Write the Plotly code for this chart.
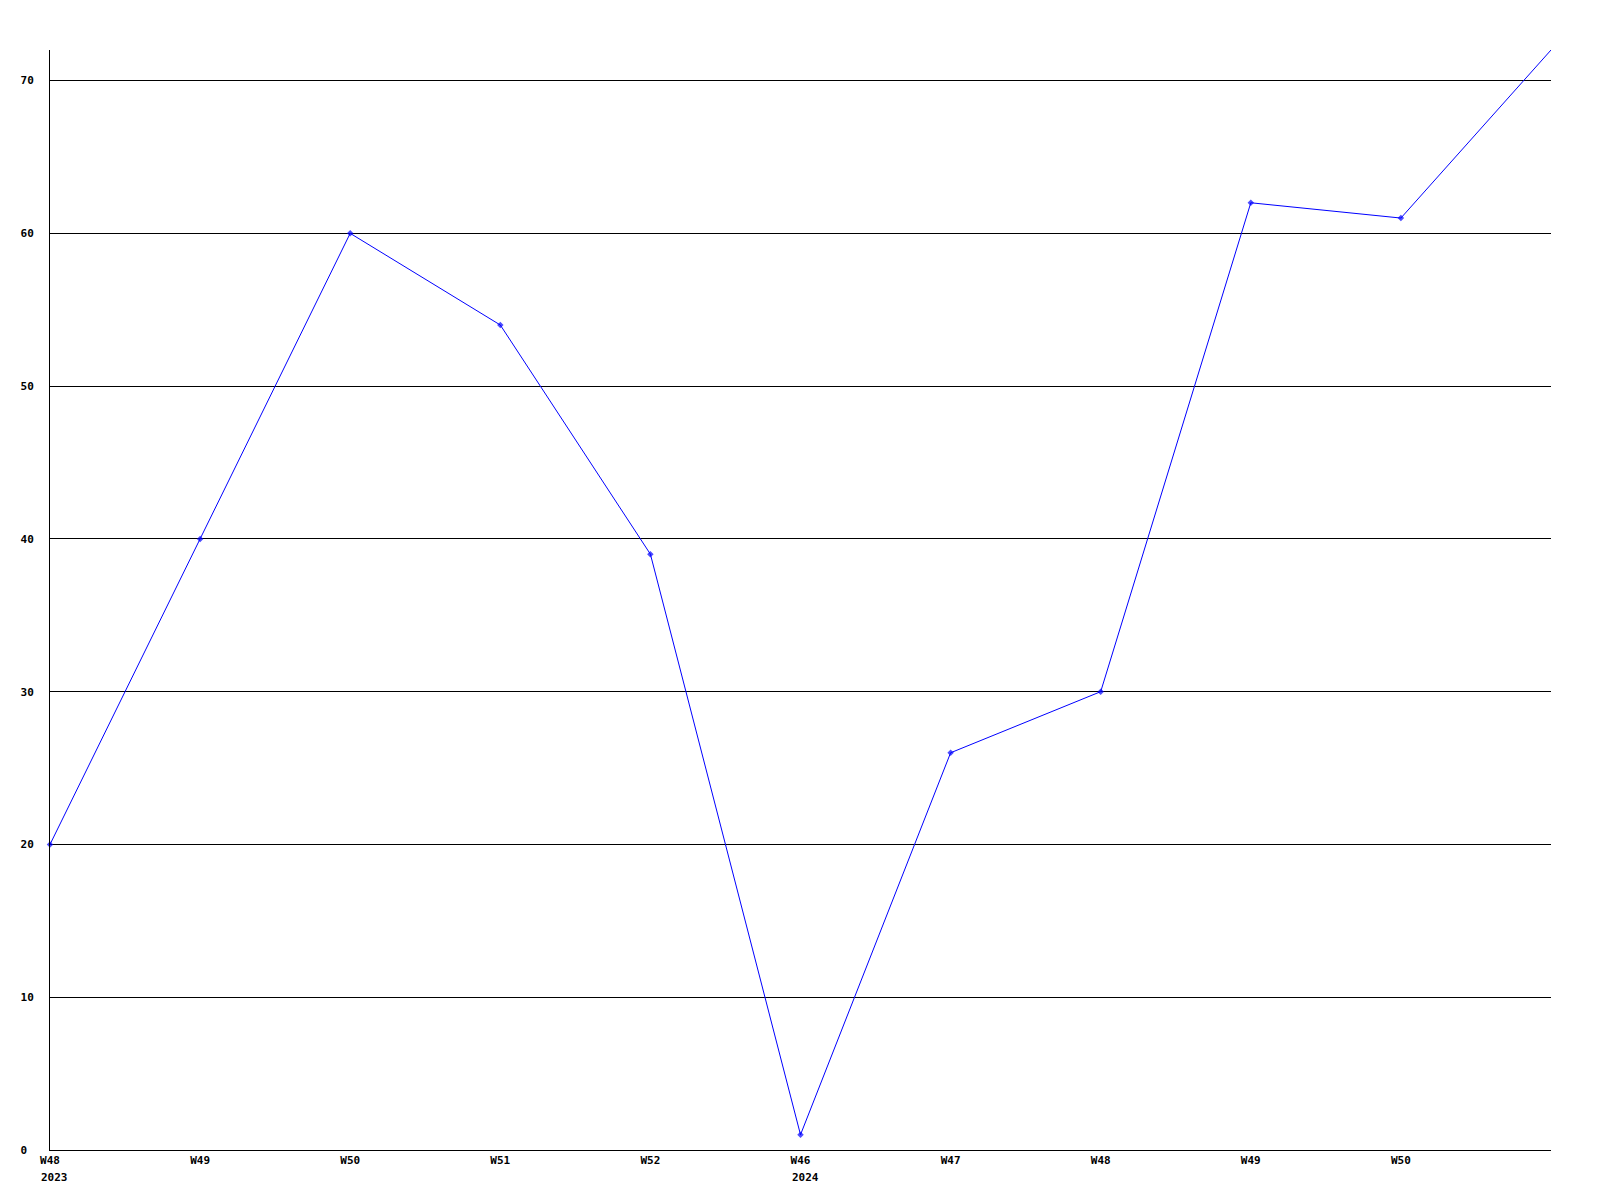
import plotly.graph_objects as go

week_labels = ["W48", "W49", "W50", "W51", "W52", "W46", "W47", "W48", "W49", "W50", "W51"]
year_labels = ["2023", "", "", "", "", "2024", "", "", "", "", ""]
values = [20, 40, 60, 54, 39, 1, 26, 30, 62, 61, 72]
y_ticks = [0, 10, 20, 30, 40, 50, 60, 70]

idx = list(range(len(values)))
FONT = dict(family="DejaVu Sans Mono", size=11, color="black")
marker_sizes = [5] * (len(values) - 1) + [0]

fig = go.Figure()
fig.add_trace(go.Scatter(
    x=idx, y=values, mode="lines+markers",
    line=dict(color="#0000ff", width=1),
    marker=dict(symbol="diamond", size=marker_sizes, color="#0000ff", line=dict(width=0)),
    cliponaxis=False, showlegend=False,
))

for i, yl in enumerate(year_labels):
    if yl:
        fig.add_annotation(x=i, y=0, xref="x", yref="y", text="<b>" + yl + "</b>",
                           showarrow=False, xanchor="left", yanchor="top",
                           xshift=-11, yshift=-19, font=FONT)

fig.update_layout(
    width=1584, height=1184,
    margin=dict(l=42, r=41, t=42, b=42),
    paper_bgcolor="white", plot_bgcolor="white",
    font=FONT,
    xaxis=dict(
        range=[0, len(values) - 1],
        tickmode="array", tickvals=idx[:-1],
        ticktext=["<b>" + w + "</b>" for w in week_labels[:-1]],
        showgrid=False, zeroline=False, showline=True, linecolor="black", linewidth=1,
        ticks="", tickfont=FONT,
    ),
    yaxis=dict(
        range=[0, 72],
        tickmode="array", tickvals=y_ticks,
        ticktext=["<b>" + str(v).ljust(2, "\u00a0") + "</b>" for v in y_ticks],
        showgrid=True, gridcolor="black", gridwidth=1,
        zeroline=False, showline=True, linecolor="black", linewidth=1,
        ticks="", tickfont=FONT, ticklabelstandoff=13,
    ),
)

fig.write_html("out.html")
